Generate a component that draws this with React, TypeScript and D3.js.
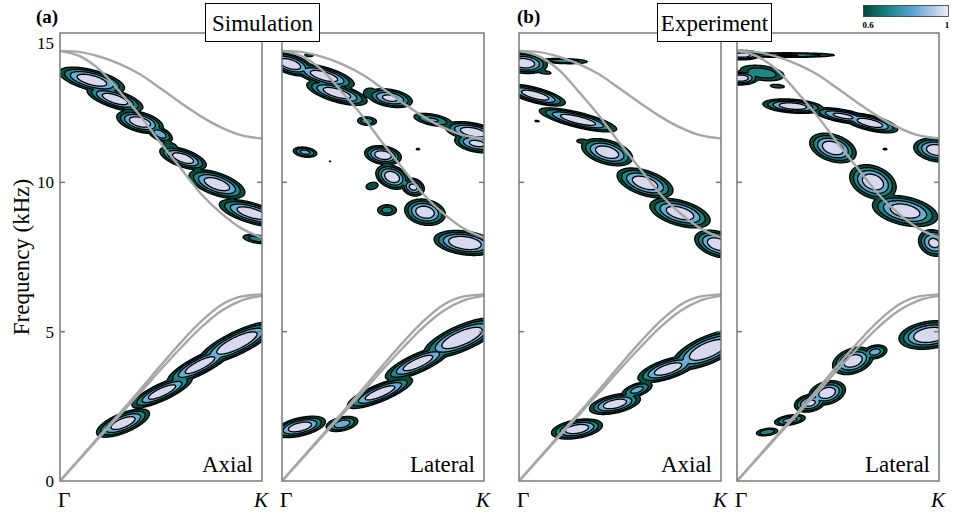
import * as d3 from "d3";
import { useMemo } from "react";

// peak = [k, f (kHz), width in k, thickness in kHz, tilt (kHz per k), amplitude]
type Peak = [number, number, number, number, number, number];

const simAxialPeaks: Peak[] = [
  [0.158, 13.42, 0.16, 0.35, -1.6, 1.0],
  [0.272, 12.79, 0.137, 0.31, -2.0, 1.0],
  [0.396, 12.02, 0.114, 0.34, -1.5, 1.0],
  [0.495, 11.62, 0.07, 0.27, -2.5, 0.88],
  [0.545, 11.22, 0.07, 0.24, -1.5, 0.68],
  [0.609, 10.81, 0.114, 0.31, -2.0, 1.0],
  [0.777, 9.94, 0.137, 0.39, -2.0, 1.0],
  [0.95, 8.97, 0.16, 0.35, -1.8, 1.0],
  [0.975, 8.1, 0.1, 0.2, -1.0, 0.76],
  [0.312, 1.94, 0.13, 0.35, 2.4, 1.0],
  [0.505, 2.98, 0.148, 0.31, 2.9, 1.0],
  [0.693, 3.88, 0.16, 0.34, 3.2, 1.0],
  [0.876, 4.62, 0.18, 0.4, 3.0, 1.05],
];

const simLateralPeaks: Peak[] = [
  [0.04, 13.96, 0.114, 0.34, -1.8, 1.0],
  [0.208, 13.56, 0.148, 0.31, -1.8, 1.0],
  [0.134, 14.26, 0.06, 0.14, -0.5, 0.64],
  [0.272, 12.99, 0.148, 0.31, -1.8, 1.0],
  [0.436, 12.99, 0.06, 0.3, 0, 0.7],
  [0.535, 12.82, 0.115, 0.31, -1.0, 0.95],
  [0.748, 12.09, 0.12, 0.24, -1.2, 0.82],
  [0.946, 11.68, 0.137, 0.31, -1.2, 1.0],
  [0.965, 11.3, 0.115, 0.31, -1.0, 0.95],
  [0.421, 12.05, 0.065, 0.2, -0.3, 0.78],
  [0.114, 11.01, 0.07, 0.2, -0.8, 0.85],
  [0.238, 10.71, 0.02, 0.07, 0, 0.62],
  [0.673, 11.11, 0.03, 0.09, 0, 0.63],
  [0.361, 10.21, 0.015, 0.07, 0, 0.61],
  [0.5, 10.91, 0.09, 0.31, -0.8, 1.0],
  [0.545, 10.18, 0.08, 0.39, -1.5, 1.0],
  [0.649, 9.84, 0.058, 0.31, -1.0, 0.95],
  [0.446, 9.88, 0.06, 0.24, 1.0, 0.68],
  [0.52, 9.07, 0.07, 0.27, 0, 0.75],
  [0.708, 9.0, 0.1, 0.43, -0.8, 1.0],
  [0.906, 7.97, 0.145, 0.38, -0.8, 1.05],
  [0.089, 1.81, 0.125, 0.31, 1.4, 1.0],
  [0.297, 1.91, 0.09, 0.27, 1.2, 0.88],
  [0.485, 2.95, 0.16, 0.31, 2.6, 1.0],
  [0.673, 3.95, 0.16, 0.34, 2.8, 1.0],
  [0.891, 4.79, 0.18, 0.44, 2.6, 1.05],
];

const expAxialPeaks: Peak[] = [
  [0.025, 13.99, 0.114, 0.34, -0.5, 1.0],
  [0.223, 14.06, 0.16, 0.12, -0.2, 0.78],
  [0.124, 13.69, 0.08, 0.14, -1.0, 0.66],
  [0.08, 12.92, 0.148, 0.26, -1.7, 1.0],
  [0.292, 12.09, 0.19, 0.26, -1.6, 1.0],
  [0.089, 12.05, 0.04, 0.08, -0.5, 0.63],
  [0.01, 11.85, 0.01, 0.05, 0, 0.62],
  [0.436, 11.01, 0.125, 0.41, -1.5, 1.0],
  [0.312, 11.38, 0.06, 0.16, 0, 0.66],
  [0.624, 9.98, 0.137, 0.43, -1.8, 1.0],
  [0.797, 8.97, 0.148, 0.43, -1.6, 1.0],
  [0.985, 7.93, 0.114, 0.43, -1.5, 1.0],
  [0.287, 1.74, 0.125, 0.31, 1.0, 1.0],
  [0.475, 2.58, 0.125, 0.31, 1.3, 1.0],
  [0.584, 3.05, 0.09, 0.27, 2.0, 0.85],
  [0.738, 3.75, 0.148, 0.34, 2.0, 1.0],
  [0.936, 4.39, 0.167, 0.47, 2.5, 1.05],
];

const expLateralPeaks: Peak[] = [
  [0.248, 14.26, 0.3, 0.1, 0, 0.82],
  [0.025, 14.26, 0.09, 0.16, 0, 1.0],
  [0.015, 13.49, 0.09, 0.23, 0, 1.0],
  [0.124, 13.66, 0.15, 0.34, -0.8, 0.78],
  [0.2, 13.22, 0.08, 0.14, -0.5, 0.66],
  [0.277, 12.55, 0.148, 0.23, -0.5, 1.0],
  [0.525, 12.22, 0.15, 0.23, -1.2, 0.95],
  [0.658, 11.99, 0.137, 0.26, -1.5, 1.0],
  [0.475, 11.15, 0.114, 0.46, -1.5, 1.0],
  [0.733, 11.11, 0.03, 0.08, 0, 0.64],
  [0.99, 11.08, 0.114, 0.39, -0.8, 1.0],
  [0.673, 10.01, 0.114, 0.55, -1.5, 1.0],
  [0.832, 9.04, 0.16, 0.48, -1.2, 1.0],
  [0.975, 7.97, 0.08, 0.46, -1.0, 0.95],
  [0.149, 1.64, 0.07, 0.16, 0.8, 0.8],
  [0.262, 2.04, 0.09, 0.2, 1.0, 0.86],
  [0.361, 2.61, 0.08, 0.31, 1.0, 0.95],
  [0.446, 2.95, 0.09, 0.39, 1.2, 1.0],
  [0.574, 4.02, 0.1, 0.43, 1.5, 1.0],
  [0.683, 4.32, 0.07, 0.27, 1.0, 0.86],
  [0.955, 4.89, 0.145, 0.44, 0.8, 1.05],
];

// dispersion curves (kHz) sampled along Γ–K
const kSteps = [0, 0.1, 0.2, 0.3, 0.4, 0.5, 0.6, 0.7, 0.8, 0.9, 1];
const opticalTop = [14.4, 14.36, 14.2, 13.95, 13.6, 13.13, 12.65, 12.2, 11.83, 11.57, 11.47];
const opticalLow = [14.4, 14.22, 13.75, 13.0, 12.2, 11.3, 10.45, 9.6, 8.95, 8.45, 8.15];
const acousticA = [0, 0.77, 1.54, 2.3, 3.08, 3.88, 4.65, 5.35, 5.9, 6.18, 6.25];
const acousticB = [0, 0.75, 1.5, 2.24, 2.98, 3.74, 4.47, 5.15, 5.7, 6.05, 6.2];

const levels = [0.6, 0.7, 0.8, 0.9];
const levelColors = ["#0b4d3e", "#1d8788", "#6aaed6", "#d8d8ee"];
const yTicks = [0, 5, 10, 15];

const panels = [
  { id: "simAx", x0: 60, peaks: simAxialPeaks, label: "Axial" },
  { id: "simLat", x0: 282, peaks: simLateralPeaks, label: "Lateral" },
  { id: "expAx", x0: 519, peaks: expAxialPeaks, label: "Axial" },
  { id: "expLat", x0: 737, peaks: expLateralPeaks, label: "Lateral" },
];

const W = 953, H = 516;
const top = 33, pw = 202, ph = 448;
const pad = 6;
const serif = "'Liberation Serif', 'Times New Roman', serif";

const x = d3.scaleLinear([0, 1], [0, pw]);
const y = d3.scaleLinear([0, 15], [ph, 0]);

// each peak keeps its own shape: take the strongest one at each point
function field(peaks: Peak[], k: number, f: number) {
  let s = 0;
  for (const [k0, f0, rk, rf, t, a] of peaks) {
    const u = (k - k0) / rk;
    if (u > 3 || u < -3) continue;
    const v = (f - f0 - t * (k - k0)) / rf;
    const q = u * u + v * v;
    if (q > 12) continue;
    const val = a * Math.exp(-q / 2);
    if (val > s) s = val;
  }
  return s;
}

function Panel({ x0, peaks, label, id }: { x0: number; peaks: Peak[]; label: string; id: string }) {
  const contours = useMemo(() => {
    const nx = pw + 2 * pad, ny = ph + 2 * pad;
    const values = new Float64Array(nx * ny);
    for (let j = 0; j < ny; j++) {
      const f = y.invert(j - pad + 0.5);
      for (let i = 0; i < nx; i++) {
        values[j * nx + i] = field(peaks, x.invert(i - pad + 0.5), f);
      }
    }
    return d3.contours().size([nx, ny]).thresholds(levels)(values as any);
  }, [peaks]);

  const path = d3.geoPath();
  const line = d3.line<number>().x((_, i) => x(kSteps[i])).y(d => y(d)).curve(d3.curveMonotoneX);

  return (
    <g transform={`translate(${x0},${top})`}>
      <clipPath id={`clip-${id}`}>
        <rect x={0} y={0} width={pw} height={ph} />
      </clipPath>
      <g clipPath={`url(#clip-${id})`}>
        <g transform={`translate(${-pad},${-pad})`}>
          {contours.map((c, i) => (
            <path key={i} d={path(c as any) || ""} fill={levelColors[i]} stroke="#000" strokeWidth={1.3} strokeLinejoin="round" />
          ))}
        </g>
        {[opticalTop, opticalLow, acousticA, acousticB].map((s, i) => (
          <path key={i} d={line(s) || ""} fill="none" stroke="#a6a6a6" strokeWidth={2.4} />
        ))}
      </g>
      <rect x={0} y={0} width={pw} height={ph} fill="none" stroke="#7a7a7a" strokeWidth={1.5} />
      {yTicks.filter(t => t > 0 && t < 15).map(t => (
        <g key={t}>
          <line x1={0} x2={5} y1={y(t)} y2={y(t)} stroke="#7a7a7a" strokeWidth={1.5} />
          <line x1={pw - 5} x2={pw} y1={y(t)} y2={y(t)} stroke="#7a7a7a" strokeWidth={1.5} />
        </g>
      ))}
      <text x={pw - 9} y={ph - 9} textAnchor="end" fontFamily={serif} fontSize={23}>{label}</text>
      <text x={4} y={ph + 26} textAnchor="middle" fontFamily={serif} fontSize={22}>Γ</text>
      <text x={pw - 1} y={ph + 26} textAnchor="middle" fontFamily={serif} fontSize={21} fontStyle="italic">K</text>
    </g>
  );
}

export default function App() {
  return (
    <svg width={W} height={H} viewBox={`0 0 ${W} ${H}`} style={{ position: "absolute", left: 0, top: 0, background: "#fff" }}>
      <defs>
        <linearGradient id="cbar" x1="0" x2="1" y1="0" y2="0">
          <stop offset="0" stopColor="#00493a" />
          <stop offset="0.3" stopColor="#1a8585" />
          <stop offset="0.55" stopColor="#4f9fcb" />
          <stop offset="0.8" stopColor="#a9c6e6" />
          <stop offset="1" stopColor="#f1ecf7" />
        </linearGradient>
      </defs>
      {panels.map(p => <Panel key={p.id} {...p} />)}

      {yTicks.map(t => (
        <text key={t} x={54} y={top + y(t)} dy={t === 15 ? "0.95em" : "0.35em"} textAnchor="end" fontFamily={serif} fontSize={17}>{t}</text>
      ))}
      <text transform={`translate(29,${top + ph / 2}) rotate(-90)`} textAnchor="middle" fontFamily={serif} fontSize={23}>Frequency (kHz)</text>

      <text x={36} y={23} fontFamily={serif} fontSize={19} fontWeight="bold">(a)</text>
      <text x={517} y={23} fontFamily={serif} fontSize={19} fontWeight="bold">(b)</text>

      <rect x={205.5} y={3.5} width={114} height={38} fill="#fff" stroke="#000" strokeWidth={1} />
      <text x={262.5} y={31} textAnchor="middle" fontFamily={serif} fontSize={23}>Simulation</text>
      <rect x={657.5} y={3.5} width={114} height={38} fill="#fff" stroke="#000" strokeWidth={1} />
      <text x={714.5} y={31} textAnchor="middle" fontFamily={serif} fontSize={23}>Experiment</text>

      <rect x={863.5} y={5.5} width={85} height={11} fill="url(#cbar)" stroke="#333" strokeWidth={0.8} />
      <text x={868} y={28} textAnchor="middle" fontFamily={serif} fontSize={9} fontWeight="bold">0.6</text>
      <text x={947} y={28} textAnchor="middle" fontFamily={serif} fontSize={9} fontWeight="bold">1</text>
    </svg>
  );
}
